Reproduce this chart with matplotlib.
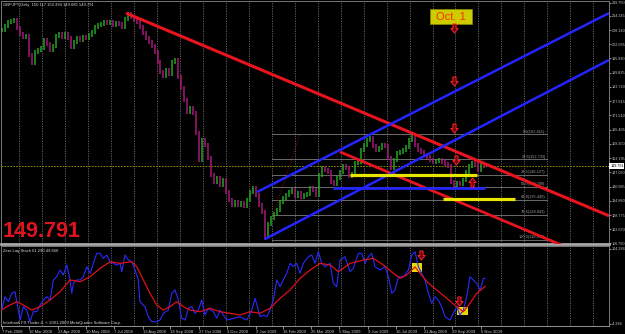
import numpy as np
import matplotlib.pyplot as plt
from matplotlib.patches import Rectangle
from matplotlib.path import Path

plt.rcParams['font.family'] = ['Liberation Sans', 'DejaVu Sans']

# GBPJPY daily, close read every ~2.85 trading days (7 Feb 2008 .. 12 Nov 2009)
close = [208.14, 209.86, 211.57, 212.0, 212.43, 209.0, 206.43, 205.14, 205.57, 197.43,
         194.0, 198.71, 199.57, 200.43, 203.86, 202.14, 199.57, 201.28, 205.57, 206.43,
         205.14, 206.43, 204.71, 200.86, 203.0, 204.71, 203.86, 205.14, 204.71, 206.0,
         207.28, 209.43, 210.28, 210.71, 211.57, 211.14, 211.57, 210.28, 211.14, 210.71,
         209.43, 212.86, 215.0, 213.71, 212.43, 211.57, 209.43, 206.86, 204.71, 203.0,
         201.28, 198.71, 194.43, 190.14, 188.43, 191.0, 189.28, 194.43, 195.28, 188.0,
         183.28, 178.14, 173.0, 174.71, 172.57, 164.0, 152.42, 161.0, 158.85, 153.28,
         146.0, 143.0, 144.71, 141.71, 143.85, 138.71, 135.28, 133.14, 134.42, 133.14,
         134.0, 132.71, 135.28, 138.71, 140.42, 137.42, 133.14, 130.14, 119.85, 125.0,
         127.57, 129.28, 131.0, 134.42, 136.14, 137.42, 138.71, 139.57, 137.0, 138.28,
         136.57, 137.42, 137.85, 140.42, 139.57, 137.42, 146.0, 149.0, 148.14, 147.28,
         143.0, 142.14, 144.71, 147.28, 149.85, 149.0, 145.57, 146.42, 151.14, 151.57,
         156.71, 158.85, 161.0, 161.85, 158.42, 156.71, 157.57, 158.85, 158.42, 153.28,
         149.0, 152.42, 155.42, 155.85, 156.71, 158.0, 161.0, 162.71, 158.85, 156.71,
         155.85, 154.57, 153.71, 152.42, 151.57, 152.0, 152.42, 151.57, 150.71, 149.85,
         143.0, 141.71, 142.57, 142.14, 143.85, 147.28, 149.85, 151.14, 150.71, 148.14,
         150.28, 149.79]
last_day = 458

# Zero Lag Stoch, fast (blue) and slow (red)
fast_day = [0, 3.1, 6.3, 9.5, 12.6, 14.2, 17.4, 20.5, 23.7, 26.9,
            30.0, 33.2, 36.4, 39.5, 42.7, 45.9, 49.0, 52.2, 55.4, 58.5,
            61.7, 64.9, 66.5, 68.0, 71.2, 74.4, 77.5, 80.7, 83.9, 87.0,
            90.2, 93.4, 96.5, 99.7, 102.9, 106.0, 109.2, 112.3, 114.0, 117.1,
            120.2, 123.5, 126.6, 129.7, 131.3, 136.1, 139.2, 142.5, 147.2, 150.3,
            153.5, 158.2, 161.4, 164.6, 167.7, 170.9, 174.1, 177.2, 180.4, 183.6,
            186.7, 189.9, 193.1, 196.2, 201.0, 204.2, 207.3, 210.5, 213.7, 220.0,
            226.3, 232.7, 237.4, 240.6, 243.7, 245.3, 248.4, 251.7, 254.8, 257.9,
            261.2, 264.3, 267.4, 270.7, 273.8, 276.9, 280.2, 283.3, 286.4, 291.2,
            294.4, 297.5, 300.7, 303.9, 307.0, 311.8, 314.9, 318.1, 321.3, 326.0,
            330.8, 333.9, 338.7, 341.9, 345.0, 348.2, 351.4, 354.5, 359.3, 364.0,
            367.2, 370.4, 373.5, 376.7, 381.4, 386.2, 389.4, 392.5, 395.7, 398.9,
            402.0, 405.2, 408.4, 411.5, 414.6, 417.9, 421.0, 425.7, 428.9, 432.1,
            435.2, 438.4, 441.6, 444.7, 447.9, 451.1, 454.3, 457.4, 459.0]
fast_val = [15.5, 34.8, 27.6, 39.7, 42.0, 27.6, 1.1, 20.3, 15.5, -1.4,
            13.1, 13.1, 22.8, 30.0, 34.8, 30.0, 59.0, 63.7, 73.4, 66.2,
            80.7, 59.0, 39.7, 54.2, 59.0, 59.0, 63.7, 78.2, 68.7, 83.1,
            97.6, 97.6, 90.4, 95.2, 85.5, 83.1, 80.7, 83.1, 71.0, 95.2,
            87.9, 85.5, 73.4, 59.0, 27.6, 20.3, 5.8, -1.4, -1.4, 1.1,
            10.8, 15.5, 39.7, 44.5, 30.0, 3.5, 1.1, 18.0, 20.3, 10.8,
            15.5, 30.0, 8.3, 18.0, 13.1, 3.5, 15.5, 8.3, 1.1, 3.5,
            5.8, 1.1, 15.5, 32.5, 15.5, 5.8, 8.3, 5.8, 15.5, 30.0,
            59.0, 49.3, 59.0, 68.7, 83.1, 78.2, 83.1, 68.7, 83.1, 92.7,
            95.2, 83.1, 99.9, 83.1, 78.2, 83.1, 54.2, 49.3, 87.9, 92.7,
            71.0, 75.9, 97.6, 97.6, 83.1, 92.7, 97.6, 78.2, 73.4, 78.2,
            63.7, 39.7, 44.5, 63.7, 63.7, 73.4, 95.2, 99.9, 78.2, 68.7,
            59.0, 39.7, 25.2, 34.8, 30.0, 20.3, 5.8, 1.1, 10.8, 20.3,
            8.3, 15.5, 34.8, 63.7, 59.0, 54.2, 44.5, 61.4, 61.29]
slow_day = [0, 4.7, 14.2, 20.5, 28.5, 36.4, 45.9, 55.4, 64.9, 74.4,
            83.9, 93.4, 102.9, 112.3, 123.5, 128.2, 134.5, 140.8, 147.2, 153.5,
            159.8, 166.2, 172.5, 178.8, 188.3, 197.8, 207.3, 216.8, 226.3, 235.8,
            245.3, 254.8, 264.3, 273.8, 283.3, 292.8, 302.3, 311.8, 319.7, 330.8,
            343.4, 352.9, 362.4, 371.9, 378.3, 384.6, 392.5, 397.3, 405.2, 413.2,
            422.6, 432.1, 438.4, 444.7, 451.1, 459.0]
slow_val = [15.5, 20.3, 27.6, 22.8, 15.5, 20.3, 30.0, 42.0, 59.0, 56.5,
            63.7, 75.9, 85.5, 83.1, 85.5, 78.2, 59.0, 39.7, 22.8, 15.5,
            20.3, 27.6, 20.3, 15.5, 13.1, 18.0, 13.1, 10.8, 8.3, 13.1,
            10.8, 18.0, 32.5, 44.5, 61.4, 73.4, 83.1, 80.7, 71.0, 83.1,
            87.9, 90.4, 80.7, 68.7, 61.4, 66.2, 78.0, 68.7, 54.2, 44.5,
            32.5, 20.3, 13.1, 25.2, 39.7, 49.66]

date_pos = [0, 26, 53, 80, 107, 134, 160, 187, 214, 241, 267, 294, 320, 348, 374, 401, 428, 455]
date_lbl = ['7 Feb 2008', '16 Mar 2008', '23 Apr 2008', '30 May 2008', '7 Jul 2008',
            '13 Aug 2008', '19 Sep 2008', '27 Oct 2008', '3 Dec 2008', '9 Jan 2009',
            '16 Feb 2009', '25 Mar 2009', '5 May 2009', '9 Jun 2009', '16 Jul 2009',
            '21 Aug 2009', '29 Sep 2009', '5 Nov 2009']

price_ticks = [116.750, 122.670, 128.775, 134.880, 140.985, 147.090, 153.195, 159.300,
               165.405, 171.510, 177.615, 183.720, 189.825, 195.930, 202.035, 208.140,
               214.245, 219.750]
stoch_ticks = [104.284, -4.284]
last_price = 149.791

# fibo retracement
fib_levels = [0.0, 23.6, 38.2, 50.0, 61.8, 76.4, 100.0]
fib_hi, fib_lo = 163.411, 118.165

# drawn objects (day, price)
red_big = [(118.0, 215.4), (574.9, 128.85)]
red_mid = [(321.3, 155.9), (406.8, 139.66)]
blue_up = [(242.5, 138.7), (576.7, 215.4)]
blue_dn = [(249.4, 118.4), (576.7, 195.3)]
blue_h = (314.6, 459.0, 140.5)
yellow_h = [(330.8, 451.4, 145.9), (419.1, 487.5, 135.5)]
arrows_dn = [(429.5, 209.0), (429.5, 186.3), (429.5, 166.1), (431.4, 152.6)]
arrows_up = [(446.2, 143.0)]
sub_arrows = [(397.7, 95.2), (434.4, 28.6)]
sub_boxes = [(389.4, 398.9, 71.0, 83.1), (432.1, 443.1, 8.3, 20.3)]

W, H = 625, 334
def rect(x0, y0, x1, y1):
    return [x0 / W, 1 - y1 / H, (x1 - x0) / W, (y1 - y0) / H]

# hollow arrow markers like the MT4 arrow objects
dn_verts = [(-0.35, 1), (0.35, 1), (0.35, 0), (0.8, 0), (0, -1), (-0.8, 0), (-0.35, 0), (-0.35, 1)]
up_verts = [(x, -y) for x, y in dn_verts]
ARROW_DN = Path(dn_verts, closed=True)
ARROW_UP = Path(up_verts, closed=True)
arrow_kw = dict(ls='none', markersize=6.5, mfc='#6a0010', mec='#ff2424', mew=0.7, zorder=6)

fig = plt.figure(figsize=(6.25, 3.34), dpi=100, facecolor='black')
ax = fig.add_axes(rect(1, 1, 609, 244))
sub = fig.add_axes(rect(1, 246, 609, 326))
XL = (-0.7, 576.7)
fs = 3.0
fs_r = 2.7
txt = '#c8c8c8'

for a in (ax, sub):
    a.set_facecolor('black')
    a.set_xlim(*XL)
    for s in a.spines.values():
        s.set_color('#8a8a8a')
        s.set_linewidth(0.6)
    for g in np.arange(16.7, 577, 21.8):
        a.axvline(g, color='#6e6e6e', lw=0.6, ls=(0, (1.5, 1.5)), zorder=0)
ax.spines['bottom'].set_color('#a8a8a8')
ax.spines['bottom'].set_linewidth(2)
ax.set_ylim(116.42, 220.57)
sub.set_ylim(-7.6, 108.2)

# price bars
c = np.array(close)
d = np.linspace(0, last_day, len(c))
prev = np.r_[c[0], c[:-1]]
col = np.where(c >= prev, '#22a622', '#a8187a')
ax.vlines(d, np.minimum(prev, c) - 0.9, np.maximum(prev, c) + 0.9, colors=col, lw=1.1, zorder=2)

ax.axhline(last_price, color='#a0a000', lw=0.6, ls=(0, (2, 1.5)), zorder=1)

# fibo
fib_x0, fib_x1 = 257, 517.6
for lv in fib_levels:
    p = fib_hi - lv / 100 * (fib_hi - fib_lo)
    ax.plot([fib_x0, fib_x1], [p, p], color='#7c7c7c', lw=0.6, zorder=1)
    ax.text(fib_x1 - 1, p + 0.3, '%.1f(%.3f)' % (lv, p), ha='right', va='bottom',
            fontsize=2.8, color='#a0a0a0', zorder=3)
ax.plot([250, 283], [fib_lo, fib_hi], color='#8b1010', lw=0.7, ls=(0, (1, 1.5)), zorder=1)

def ray(pts, **kw):
    (x0, y0), (x1, y1) = pts
    s = (y1 - y0) / (x1 - x0)
    ax.plot([x0, XL[1]], [y0, y0 + s * (XL[1] - x0)], solid_capstyle='butt', zorder=4, **kw)

ray(red_big, color='#e8141e', lw=2.2)
ray(red_mid, color='#e8141e', lw=2.0)
ray(blue_up, color='#2424ff', lw=1.8)
ray(blue_dn, color='#2424ff', lw=1.8)
ax.plot(blue_h[:2], [blue_h[2]] * 2, color='#2424ff', lw=2.0, zorder=4, solid_capstyle='butt')
for x0, x1, p in yellow_h:
    ax.plot([x0, x1], [p, p], color='#e6e600', lw=2.3, zorder=4, solid_capstyle='butt')

ax.plot(*zip(*arrows_dn), marker=ARROW_DN, **arrow_kw)
ax.plot(*zip(*arrows_up), marker=ARROW_UP, **arrow_kw)

ax.add_patch(Rectangle((406.7, 210.7), 40, 6.4, fc='#cccc00', ec='#8c8c00', lw=0.5, zorder=5))
ax.text(426.7, 213.9, 'Oct. 1', ha='center', va='center', fontsize=8, color='#ff3000', zorder=6)

# right price scale
ax.yaxis.tick_right()
ax.set_yticks(price_ticks)
ax.set_yticklabels(['%.3f' % v for v in price_ticks])
ax.tick_params(axis='y', colors=txt, labelsize=fs_r, length=1.5, width=0.5, pad=0.5)
ax.set_xticks([])
ax.text(1.002, last_price, '%.3f' % last_price, transform=ax.get_yaxis_transform(),
        ha='left', va='center', fontsize=fs_r, color='black',
        bbox=dict(boxstyle='square,pad=0.2', fc='white', ec='none'))

# stochastic window
sub.plot(fast_day, fast_val, color='#2a2aff', lw=0.8, zorder=3)
sub.plot(slow_day, slow_val, color='#e0101a', lw=0.9, zorder=3)
for x0, x1, v0, v1 in sub_boxes:
    sub.add_patch(Rectangle((x0, v0), x1 - x0, v1 - v0, fc='#e6d800', ec='none', zorder=2))
sub.plot(*zip(*sub_arrows), marker=ARROW_DN, **arrow_kw)
sub.yaxis.tick_right()
sub.set_yticks(stoch_ticks)
sub.set_yticklabels(['%.3f' % v for v in stoch_ticks])
sub.tick_params(axis='y', colors=txt, labelsize=fs_r, length=1.5, width=0.5, pad=0.5)
sub.set_xticks(date_pos)
sub.set_xticklabels(date_lbl, ha='left')
sub.tick_params(axis='x', colors=txt, labelsize=fs, length=2, width=0.5, pad=1)
sub.spines['bottom'].set_color('#a8a8a8')

fig.text(3 / W, 1 - 5 / H, 'GBPJPY,Daily  150.117 150.394 149.685 149.791',
         fontsize=fs, color='#d8d8d8', va='center')
fig.text(3 / W, 1 - 251 / H, 'Zero Lag Stoch 61.290 49.660', fontsize=fs, color='#d8d8d8', va='center')
fig.text(3 / W, 1 - 322.7 / H, 'Interbank FX Trader 4, \u00a9 2001-2009 MetaQuotes Software Corp.',
         fontsize=fs, color='#d8d8d8', va='center')
fig.text(3 / W, 1 - 231.5 / H, '149.791', fontsize=15.5, fontweight='bold', color='#e0141e', va='center')

fig.savefig('out.png', dpi=100, facecolor='black')
